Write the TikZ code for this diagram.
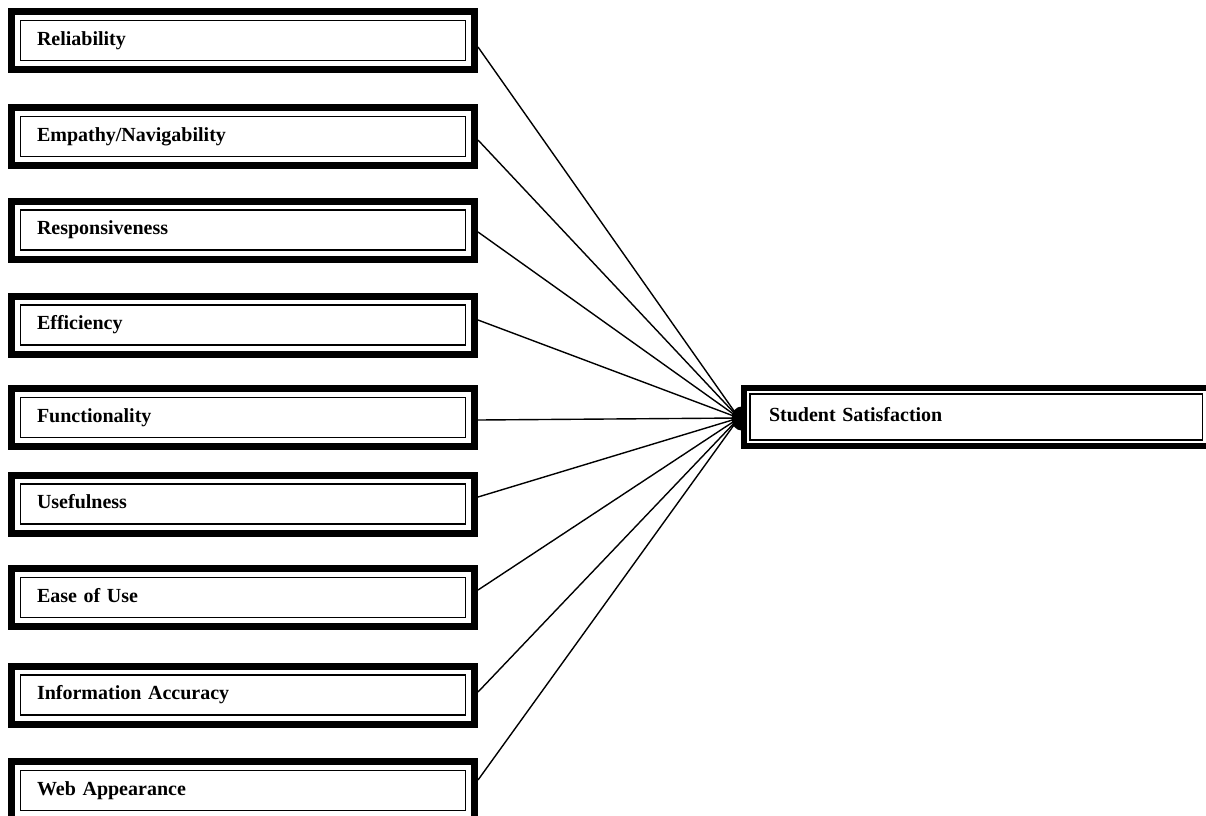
\documentclass[tikz,border=0pt]{standalone}
\usepackage{fontspec}
\setmainfont{Liberation Serif}
\newcommand{\myboxfont}{\fontsize{20}{22}\selectfont\bfseries\spaceskip=4pt plus 2pt\relax}
\begin{document}
\begin{tikzpicture}[x=1pt,y=-1pt,
  lbox/.style={draw=black, fill=white, line width=7pt, minimum width=463pt, minimum height=58pt,
    inner sep=0pt, text width=412pt, align=left, text height=14pt, text depth=4.5pt,
    font=\myboxfont,
    path picture={\draw[line width=1.5pt] ([shift={(9pt,-9pt)}]path picture bounding box.north west) rectangle ([shift={(-9pt,9pt)}]path picture bounding box.south east);}},
  sbox/.style={draw=black, fill=white, line width=5.7pt, minimum width=464.7pt, minimum height=58.3pt,
    inner sep=0pt, text width=414.4pt, align=left, text height=14pt, text depth=4.5pt,
    font=\myboxfont,
    path picture={\draw[line width=1.5pt] ([shift={(6pt,-6pt)}]path picture bounding box.north west) rectangle ([shift={(-6pt,6pt)}]path picture bounding box.south east);}},
  link/.style={draw=black, line width=1.4pt}]
\clip (0,0) rectangle (1206,815);
\fill[white] (0,0) rectangle (1206,815);
\node[lbox] (r1) at (243,40.5) {Reliability};
\node[lbox] (r2) at (243,136.5) {Empathy/Navigability};
\node[lbox] (r3) at (243,230) {Responsiveness};
\node[lbox] (r4) at (243,325) {Efficiency};
\node[lbox] (r5) at (243,417.5) {Functionality};
\node[lbox] (r6) at (243,504) {Usefulness};
\node[lbox] (r7) at (243,597.5) {Ease of Use};
\node[lbox] (r8) at (243,695) {Information Accuracy};
\node[lbox] (r9) at (243,790.5) {Web Appearance};
\coordinate (hub) at (739,418);
\fill[black] (741.5,418.5) ellipse [x radius=10, y radius=12];
\node[sbox] (ss) at (976.2,417) {Student Satisfaction};
\draw[link] ([yshift=-6.5pt]r1.east) -- (hub);
\draw[link] ([yshift=-3.5pt]r2.east) -- (hub);
\draw[link] ([yshift=-2pt]r3.east) -- (hub);
\draw[link] ([yshift=5pt]r4.east) -- (hub);
\draw[link] ([yshift=-2.5pt]r5.east) -- (hub);
\draw[link] ([yshift=7pt]r6.east) -- (hub);
\draw[link] ([yshift=7.5pt]r7.east) -- (hub);
\draw[link] ([yshift=3pt]r8.east) -- (hub);
\draw[link] ([yshift=10.5pt]r9.east) -- (hub);
\end{tikzpicture}
\end{document}
